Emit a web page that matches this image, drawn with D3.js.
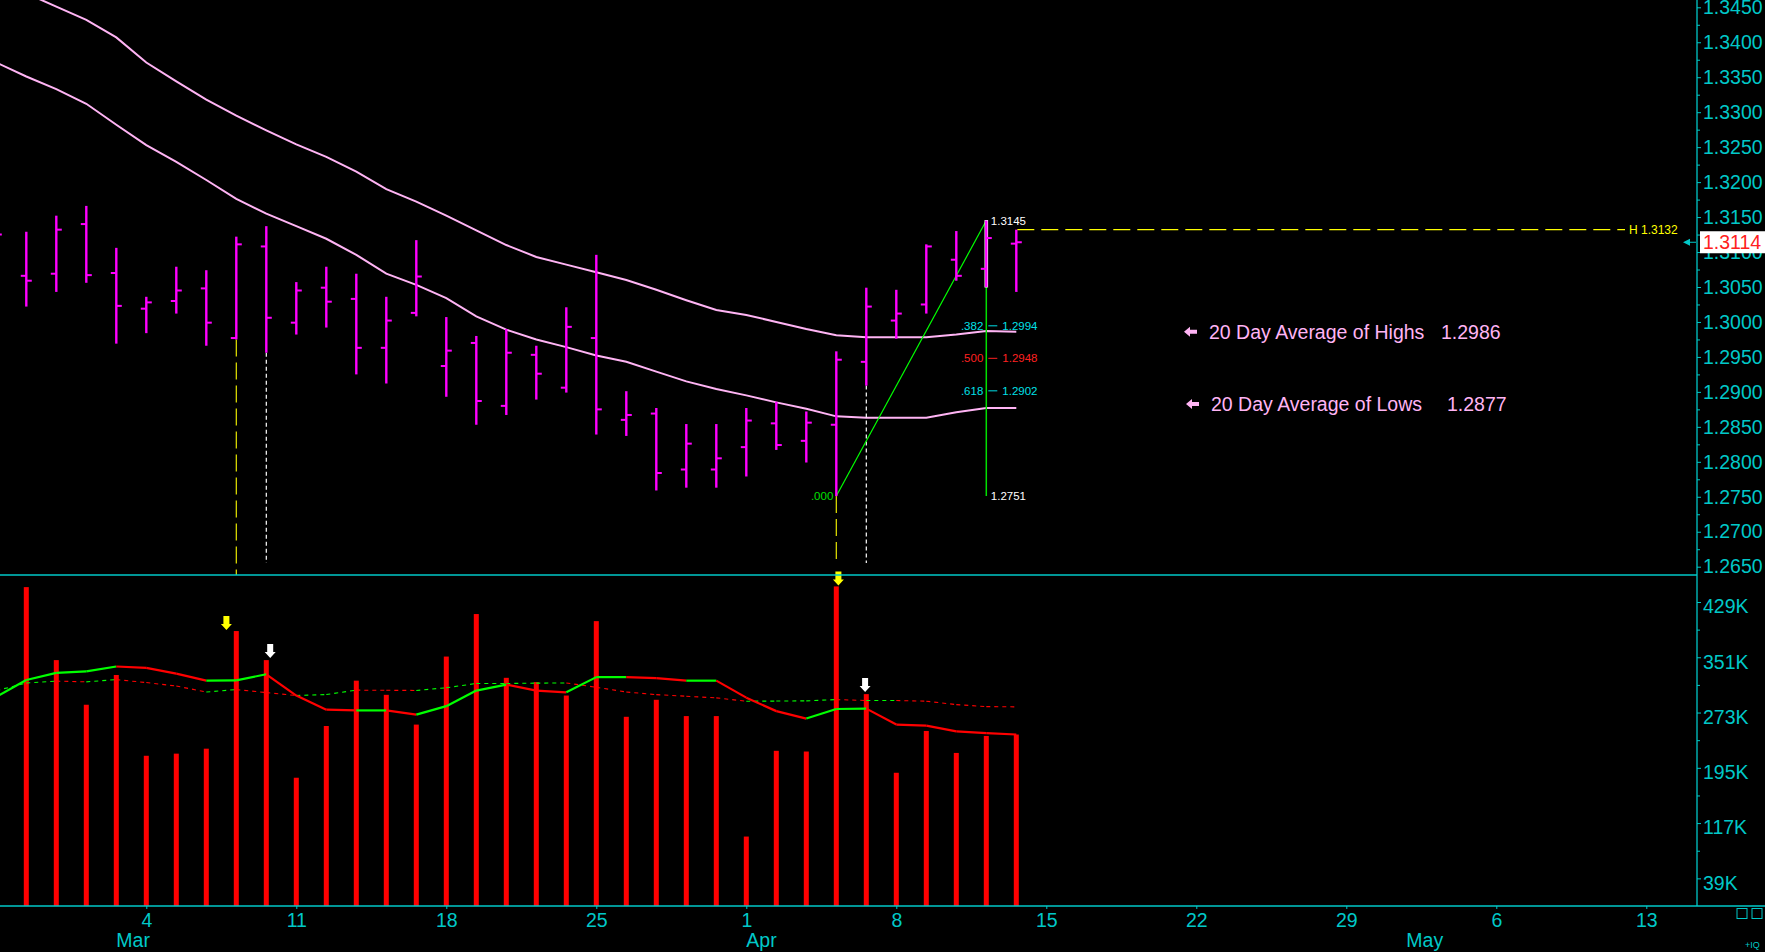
<!DOCTYPE html>
<html>
<head>
<meta charset="utf-8">
<script src="https://cdn.jsdelivr.net/npm/d3@7"></script>
<style>
  html, body { margin: 0; padding: 0; background: #000; overflow: hidden; }
  text { font-family: "Liberation Sans", Arial, sans-serif; }
</style>
</head>
<body>
<div id="chart"></div>
<script>
// trading days shown (first one sits just left of the frame)
const dates = [
  "2013-02-25", "2013-02-26", "2013-02-27", "2013-02-28", "2013-03-01",
  "2013-03-04", "2013-03-05", "2013-03-06", "2013-03-07", "2013-03-08",
  "2013-03-11", "2013-03-12", "2013-03-13", "2013-03-14", "2013-03-15",
  "2013-03-18", "2013-03-19", "2013-03-20", "2013-03-21", "2013-03-22",
  "2013-03-25", "2013-03-26", "2013-03-27", "2013-03-28", "2013-03-29",
  "2013-04-01", "2013-04-02", "2013-04-03", "2013-04-04", "2013-04-05",
  "2013-04-08", "2013-04-09", "2013-04-10", "2013-04-11", "2013-04-12"
];
const opens = [
  1.3060, 1.3066, 1.3069, 1.3140, 1.3070, 1.3019, 1.3030, 1.3048, 1.2977, 1.3108,
  1.2999, 1.3049, 1.3033, 1.2963, 1.3013, 1.2937, 1.2970, 1.2880, 1.2953, 1.2906,
  1.2977, 1.2860, 1.2869, 1.2789, 1.2789, 1.2821, 1.2855, 1.2830, 1.2853, 1.2943,
  1.3002, 1.3025, 1.3089, 1.3076, 1.3112
];
const highs = [
  1.3180, 1.3129, 1.3152, 1.3166, 1.3106, 1.3036, 1.3079, 1.3074, 1.3122, 1.3137,
  1.3057, 1.3079, 1.3069, 1.3036, 1.3117, 1.3007, 1.2980, 1.2990, 1.2966, 1.3021,
  1.3096, 1.2901, 1.2877, 1.2854, 1.2854, 1.2877, 1.2886, 1.2872, 1.2958, 1.3049,
  1.3046, 1.3111, 1.3130, 1.3145, 1.3132
];
const lows = [
  1.3020, 1.3022, 1.3043, 1.3056, 1.2969, 1.2984, 1.3012, 1.2966, 1.2975, 1.2956,
  1.2982, 1.2992, 1.2925, 1.2912, 1.3008, 1.2893, 1.2853, 1.2867, 1.2889, 1.2899,
  1.2839, 1.2837, 1.2759, 1.2763, 1.2763, 1.2779, 1.2817, 1.2799, 1.2751, 1.2909,
  1.2976, 1.3012, 1.3059, 1.3050, 1.3043
];
const closes = [
  1.3125, 1.3059, 1.3132, 1.3067, 1.3023, 1.3028, 1.3045, 1.2999, 1.3111, 1.3006,
  1.3045, 1.3029, 1.2963, 1.3002, 1.3065, 1.2959, 1.2887, 1.2956, 1.2926, 1.2993,
  1.2875, 1.2867, 1.2784, 1.2826, 1.2805, 1.2859, 1.2824, 1.2856, 1.2946, 1.3022,
  1.3012, 1.3108, 1.3066, 1.3120, 1.3114
];
const avgHighs = [
  1.3490, 1.3470, 1.3451, 1.3432, 1.3407, 1.3371, 1.3344, 1.3318, 1.3295, 1.3274,
  1.3254, 1.3236, 1.3215, 1.3190, 1.3172, 1.3152, 1.3131, 1.3110, 1.3093, 1.3082,
  1.3071, 1.3060, 1.3046, 1.3031, 1.3017, 1.3010, 1.3000, 1.2990, 1.2981, 1.2978,
  1.2978, 1.2978, 1.2982, 1.2987, 1.2986
];
const avgLows = [
  1.3371, 1.3351, 1.3333, 1.3312, 1.3282, 1.3253, 1.3229, 1.3203, 1.3176, 1.3155,
  1.3137, 1.3119, 1.3096, 1.3069, 1.3053, 1.3034, 1.3008, 1.2989, 1.2975, 1.2964,
  1.2952, 1.2943, 1.2929, 1.2915, 1.2904, 1.2895, 1.2885, 1.2876, 1.2865, 1.2863,
  1.2863, 1.2863, 1.2871, 1.2877, 1.2877
];
// volume in thousands
const volumes = [
  374, 450, 347, 284, 326, 212, 215, 222, 388, 347,
  181, 254, 318, 298, 256, 352, 412, 322, 316, 297,
  402, 267, 291, 268, 268, 98, 219, 218, 451, 299,
  188, 247, 216, 240, 242
];
const volFast = [
  295, 319, 329, 331, 338, 336, 328, 318, 318.5, 327,
  297, 277, 276, 276, 270, 282, 304, 312.5, 304, 301.5,
  323, 323, 321.5, 318, 318, 294, 275, 264.5, 278, 278.5,
  256, 254.5, 246.5, 244, 242
];
const volSlow = [
  304, 314.6, 317.4, 316.3, 319.5, 315.3, 310.4, 302, 305.4, 301.2,
  297, 298.4, 304.6, 304.4, 304.2, 308, 314, 314, 314.5, 314.8,
  308.6, 302, 298.3, 296, 293.7, 289, 289.2, 289.5, 291.3, 290,
  290, 289, 284.2, 281.4, 281
];
const priceTicks = [1.2650, 1.2700, 1.2750, 1.2800, 1.2850, 1.2900, 1.2950, 1.3000, 1.3050,
                    1.3100, 1.3150, 1.3200, 1.3250, 1.3300, 1.3350, 1.3400, 1.3450];
const volumeTicks = [39, 117, 195, 273, 351, 429];

// swing used for the retracement tool (bar index of low and high)
const fibFrom = 27, fibTo = 32;
const fibLevels = [0.382, 0.5, 0.618];
const yellowBars = [7, 27];
const whiteBars = [8, 28];
const yellowArrowAt = [6.67, 27.07];
const whiteArrowAt = [8.13, 27.96];

const W = 1765, H = 952;
const axisX = 1697, splitY = 575, bottomY = 906;
const cyan = "#00c8c8", pink = "#ffb4f4", magenta = "#ff00ff";

const svg = d3.select("#chart")
  .append("svg")
  .attr("width", W)
  .attr("height", H)
  .style("background", "#000");

const defs = svg.append("defs");
defs.append("clipPath").attr("id", "clipP")
  .append("rect").attr("x", 0).attr("y", 0).attr("width", axisX).attr("height", splitY);
defs.append("clipPath").attr("id", "clipV")
  .append("rect").attr("x", 0).attr("y", splitY + 1).attr("width", axisX).attr("height", bottomY - splitY - 1);

// index -1 is the first date
const x = d3.scaleLinear().domain([-1, 55]).range([-3.7, 1676.3]);
const yP = d3.scaleLinear().domain([1.2650, 1.3450]).range([566.7, 7.3]);
const yV = d3.scaleLinear().domain([0, 429]).range([bottomY, 602]);

const bars = dates.map((d, k) => ({
  i: k - 1, date: d, o: opens[k], h: highs[k], l: lows[k], c: closes[k],
  v: volumes[k], ah: avgHighs[k], al: avgLows[k], vf: volFast[k], vs: volSlow[k]
}));
const byIdx = i => bars[i + 1];
const last = bars[bars.length - 1];
const f4 = d3.format(".4f");

// ---------- price panel ----------
const gp = svg.append("g").attr("clip-path", "url(#clipP)");

const maLine = key => d3.line().x(d => x(d.i)).y(d => yP(d[key]));
gp.append("path").datum(bars).attr("d", maLine("ah"))
  .attr("fill", "none").attr("stroke", pink).attr("stroke-width", 2);
gp.append("path").datum(bars).attr("d", maLine("al"))
  .attr("fill", "none").attr("stroke", pink).attr("stroke-width", 2);

// signal verticals
yellowBars.forEach((i, k) => {
  gp.append("line")
    .attr("x1", x(i)).attr("x2", x(i))
    .attr("y1", yP(byIdx(i).l)).attr("y2", k === 0 ? splitY : 565)
    .attr("stroke", "#e8e800").attr("stroke-width", 1.2)
    .attr("stroke-dasharray", "17,6");
});
whiteBars.forEach(i => {
  gp.append("line")
    .attr("x1", x(i)).attr("x2", x(i))
    .attr("y1", yP(byIdx(i).l)).attr("y2", 563)
    .attr("stroke", "#fff").attr("stroke-width", 1.2)
    .attr("stroke-dasharray", "4,3");
});

// retracement tool
const fLow = byIdx(fibFrom).l, fHigh = byIdx(fibTo).h;
gp.append("line")
  .attr("x1", x(fibFrom)).attr("y1", yP(fLow))
  .attr("x2", x(fibTo)).attr("y2", yP(fHigh))
  .attr("stroke", "#00ff00").attr("stroke-width", 1.2);
gp.append("line")
  .attr("x1", x(fibTo)).attr("y1", yP(fHigh))
  .attr("x2", x(fibTo)).attr("y2", yP(fLow))
  .attr("stroke", "#00e000").attr("stroke-width", 1.5);
// white edge of the selected bar
gp.append("line")
  .attr("x1", x(fibTo)).attr("x2", x(fibTo))
  .attr("y1", yP(fHigh) - 0.5).attr("y2", yP(byIdx(fibTo).l) + 0.5)
  .attr("stroke", "#fff").attr("stroke-width", 3.6);

// H line
gp.append("line")
  .attr("x1", x(last.i) + 1).attr("x2", 1625)
  .attr("y1", yP(last.h)).attr("y2", yP(last.h))
  .attr("stroke", "#ffff00").attr("stroke-width", 1.2)
  .attr("stroke-dasharray", "17,7");

// OHLC bars
const bg = gp.append("g");
bg.selectAll("line.hl").data(bars).enter().append("line")
  .attr("x1", d => x(d.i)).attr("x2", d => x(d.i))
  .attr("y1", d => yP(d.h)).attr("y2", d => yP(d.l))
  .attr("stroke", magenta).attr("stroke-width", 2.4);
bg.selectAll("line.op").data(bars).enter().append("line")
  .attr("x1", d => x(d.i) - 5.5).attr("x2", d => x(d.i))
  .attr("y1", d => yP(d.o)).attr("y2", d => yP(d.o))
  .attr("stroke", magenta).attr("stroke-width", 2);
bg.selectAll("line.cl").data(bars).enter().append("line")
  .attr("x1", d => x(d.i)).attr("x2", d => x(d.i) + 5.5)
  .attr("y1", d => yP(d.c)).attr("y2", d => yP(d.c))
  .attr("stroke", magenta).attr("stroke-width", 2);

// retracement labels
const fx = x(fibTo);
const small = "11.5px";
gp.append("text").attr("x", fx + 4.5).attr("y", yP(fHigh)).attr("dy", "0.35em")
  .attr("fill", "#fff").style("font-size", small).text(f4(fHigh));
gp.append("text").attr("x", fx + 4.5).attr("y", yP(fLow)).attr("dy", "0.35em")
  .attr("fill", "#fff").style("font-size", small).text(f4(fLow));
gp.append("text").attr("x", x(fibFrom) - 3).attr("y", yP(fLow)).attr("dy", "0.35em")
  .attr("text-anchor", "end").attr("fill", "#00e000").style("font-size", small).text(".000");
fibLevels.forEach(lv => {
  const p = fHigh - lv * (fHigh - fLow);
  const col = lv === 0.5 ? "#ff2020" : "#00e0e8";
  gp.append("text").attr("x", fx - 3).attr("y", yP(p)).attr("dy", "0.35em")
    .attr("text-anchor", "end").attr("fill", col).style("font-size", small)
    .text(d3.format(".3f")(lv).replace(/^0/, ""));
  gp.append("line").attr("x1", fx + 2).attr("x2", fx + 11)
    .attr("y1", yP(p)).attr("y2", yP(p)).attr("stroke", col).attr("stroke-width", 1);
  gp.append("text").attr("x", fx + 16).attr("y", yP(p)).attr("dy", "0.35em")
    .attr("fill", col).style("font-size", small).text(f4(p));
});

svg.append("text").attr("x", 1629).attr("y", yP(last.h)).attr("dy", "0.35em")
  .attr("fill", "#ffff00").style("font-size", "12px").text("H " + f4(last.h));

// legend for the averages
function legendArrow(xx, yy) {
  svg.append("path")
    .attr("d", `M${xx},${yy} L${xx + 6},${yy - 5} L${xx + 6},${yy - 2} L${xx + 13},${yy - 2} L${xx + 13},${yy + 2} L${xx + 6},${yy + 2} L${xx + 6},${yy + 5} Z`)
    .attr("fill", pink);
}
const legY1 = yP(last.ah), legY2 = yP(last.al) - 4;
legendArrow(1184, legY1);
legendArrow(1186, legY2);
svg.append("text").attr("x", 1209).attr("y", legY1 + 7).attr("fill", pink)
  .style("font-size", "19.5px").text("20 Day Average of Highs");
svg.append("text").attr("x", 1441).attr("y", legY1 + 7).attr("fill", pink)
  .style("font-size", "19.5px").text(f4(last.ah));
svg.append("text").attr("x", 1211).attr("y", legY2 + 7).attr("fill", pink)
  .style("font-size", "19.5px").text("20 Day Average of Lows");
svg.append("text").attr("x", 1447).attr("y", legY2 + 7).attr("fill", pink)
  .style("font-size", "19.5px").text(f4(last.al));

// ---------- volume panel ----------
const gv = svg.append("g").attr("clip-path", "url(#clipV)");
gv.selectAll("rect.vol").data(bars).enter().append("rect")
  .attr("x", d => x(d.i) - 2.5).attr("width", 5)
  .attr("y", d => yV(d.v)).attr("height", d => bottomY - yV(d.v))
  .attr("fill", "#ff0000");

function segLines(key, width, dash) {
  for (let k = 1; k < bars.length; k++) {
    const a = bars[k - 1], b = bars[k];
    gv.append("line")
      .attr("x1", x(a.i)).attr("y1", yV(a[key]))
      .attr("x2", x(b.i)).attr("y2", yV(b[key]))
      .attr("stroke", b[key] >= a[key] ? "#00ff00" : "#ff0000")
      .attr("stroke-width", width)
      .attr("stroke-dasharray", dash);
  }
}
segLines("vs", 1.1, "4,4");
segLines("vf", 2.2, null);

function downArrow(cx, tip, col) {
  svg.append("path")
    .attr("d", `M${cx - 3},${tip - 14} L${cx + 3},${tip - 14} L${cx + 3},${tip - 6} L${cx + 5.5},${tip - 6} L${cx},${tip} L${cx - 5.5},${tip - 6} L${cx - 3},${tip - 6} Z`)
    .attr("fill", col);
}
yellowArrowAt.forEach((a, k) => downArrow(x(a), yV(byIdx(yellowBars[k]).v) - 1, "#ffff00"));
whiteArrowAt.forEach((a, k) => downArrow(x(a), yV(byIdx(whiteBars[k]).v) - 2, "#ffffff"));

// ---------- axes ----------
const tickStyle = g => {
  g.select(".domain").remove();
  g.selectAll("line").attr("stroke", cyan);
  g.selectAll("text").attr("fill", cyan).style("font-size", "19.5px")
    .style("font-family", "'Liberation Sans', Arial, sans-serif");
};

svg.append("g").attr("transform", `translate(${axisX},0)`)
  .call(d3.axisRight(yP).tickValues(priceTicks).tickFormat(f4).tickSize(4).tickPadding(2))
  .call(tickStyle);
svg.append("g").attr("transform", `translate(${axisX},0)`)
  .call(d3.axisRight(yP).tickValues(d3.range(1.2675, 1.346, 0.005)).tickFormat("").tickSize(3))
  .call(tickStyle);
svg.append("g").attr("transform", `translate(${axisX},0)`)
  .call(d3.axisRight(yV).tickValues(volumeTicks).tickFormat(d => d + "K").tickSize(4).tickPadding(2))
  .call(tickStyle)
  .selectAll("text").attr("dy", "0.55em");
svg.append("g").attr("transform", `translate(${axisX},0)`)
  .call(d3.axisRight(yV).tickValues(d3.range(78, 430, 78)).tickFormat("").tickSize(3))
  .call(tickStyle);

// calendar of weekdays for the time axis
const cal = d3.timeDay.range(new Date(2013, 1, 25), new Date(2013, 4, 21))
  .filter(d => d.getDay() !== 0 && d.getDay() !== 6);
const weekIdx = cal.map((d, k) => ({ d, i: k - 1 }))
  .filter(o => o.d.getDay() === 1 && x(o.i) > 10 && x(o.i) < axisX - 10);
const monthIdx = cal.map((d, k) => ({ d, i: k - 1 }))
  .filter((o, k) => k > 0 && o.d.getMonth() !== cal[k - 1].getMonth());

svg.append("g").attr("transform", `translate(0,${bottomY})`)
  .call(d3.axisBottom(x).tickValues(weekIdx.map(o => o.i))
    .tickFormat(i => cal[i + 1].getDate()).tickSize(3).tickPadding(4))
  .call(tickStyle);
svg.selectAll("text.month").data(monthIdx).enter().append("text")
  .attr("x", o => x(o.i)).attr("y", 947)
  .attr("fill", cyan).style("font-size", "19.5px")
  .text(o => d3.timeFormat("%b")(o.d));

// frame lines
svg.append("line").attr("x1", axisX).attr("x2", axisX).attr("y1", 0).attr("y2", bottomY)
  .attr("stroke", cyan).attr("stroke-width", 1.3);
svg.append("line").attr("x1", 0).attr("x2", axisX).attr("y1", splitY).attr("y2", splitY)
  .attr("stroke", cyan).attr("stroke-width", 1.3);
svg.append("line").attr("x1", 0).attr("x2", W).attr("y1", bottomY).attr("y2", bottomY)
  .attr("stroke", cyan).attr("stroke-width", 1.3);

// last price marker
const ly = yP(last.c);
svg.append("path")
  .attr("d", `M${axisX - 14},${ly} L${axisX - 7},${ly - 3.5} L${axisX - 7},${ly + 3.5} Z M${axisX - 8},${ly - 0.6} h7 v1.2 h-7 Z`)
  .attr("fill", cyan);
svg.append("rect").attr("x", axisX + 3).attr("y", ly - 11).attr("width", W - axisX - 3).attr("height", 22)
  .attr("fill", "#fff");
svg.append("text").attr("x", axisX + 6).attr("y", ly).attr("dy", "0.36em")
  .attr("fill", "#ff2020").style("font-size", "19.5px").text(f4(last.c));

// little boxes bottom right
[1737, 1752].forEach(bx => {
  svg.append("rect").attr("x", bx).attr("y", 908.5).attr("width", 10).attr("height", 10)
    .attr("fill", "none").attr("stroke", cyan).attr("stroke-width", 1);
});
svg.append("text").attr("x", 1745).attr("y", 948).attr("fill", cyan)
  .style("font-size", "9px").text("+IQ");
</script>
</body>
</html>
